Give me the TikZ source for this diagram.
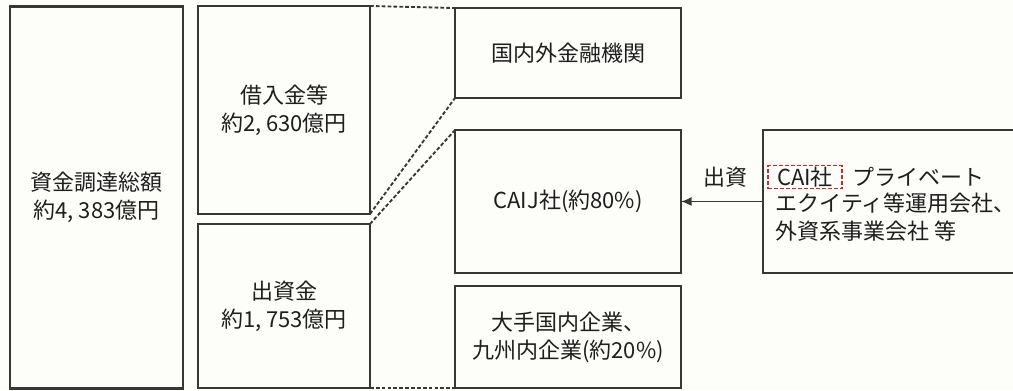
\documentclass[tikz,border=0pt]{standalone}
\usepackage{fontspec}
\setmainfont{Noto Sans CJK JP}
\usetikzlibrary{arrows.meta}
\definecolor{boxgray}{RGB}{55,55,55}
\definecolor{txt}{RGB}{30,30,30}
\definecolor{bgc}{RGB}{253,253,250}
\definecolor{tagred}{RGB}{215,35,40}
\begin{document}
\begin{tikzpicture}[x=0.75pt,y=-0.75pt,
  every node/.style={text=txt, font=\fontsize{16.5}{21}\selectfont},
  box/.style={draw=boxgray, line width=2pt, rectangle, inner sep=0pt, outer sep=0pt, align=center},
  openbox/.style={draw=none, rectangle, inner sep=0pt, outer sep=0pt},
  edge/.style={draw=boxgray, line width=2pt},
  sz/.style 2 args={minimum width={#1*0.75pt}, minimum height={#2*0.75pt}},
  link/.style={draw=boxgray, line width=1.4pt, dash pattern=on 2.8pt off 1.6pt},
  flow/.style={draw=boxgray, line width=1.4pt, -{Latex[length=8pt,width=7pt]}},
  lbl/.style={inner sep=1pt},
  tagbox/.style={draw=tagred, line width=1.3pt, dash pattern=on 3pt off 1.5pt, inner sep=0pt, minimum width={74*0.75pt}, minimum height={23*0.75pt}}
]
\clip (0,0) rectangle (1013,390);
\fill[bgc] (0,0) rectangle (1013,390);

\node[box, sz={173}{382}] (total) at (96.5,197.5) {資金調達総額\\約4, 383億円};
\node[box, sz={172}{208}] (loan) at (284,110) {借入金等\\約2, 630億円};
\node[box, sz={172}{164}] (equity) at (284,306) {出資金\\約1, 753億円};

\node[box, sz={226}{90}] (banks) at (568,53) {国内外金融機関};
\node[box, sz={226}{143}] (caij) at (568,201.5) {CAIJ社(約80\%)};
\node[box, sz={226}{102}] (major) at (568,337) {大手国内企業、\\九州内企業(約20\%)};

\node[openbox, sz={246}{143}] (cai) at (886,201.5) {};
\draw[edge] ([xshift=6pt]cai.north east) -- (cai.north west) -- (cai.south west) -- ([xshift=6pt]cai.south east);

\draw[link] (loan.north east) -- (banks.north west);
\draw[link] (loan.south east) -- (banks.south west);
\draw[link] (equity.north east) -- (caij.north west);
\draw[link] (equity.south east) -- (major.south west);

\draw[flow] (cai.west) -- (caij.east);
\node[lbl] (inv) at (725,177) {出資};

\node[tagbox] (tag) at (805,177) {CAI社};
\node[lbl, anchor=west] (pv) at (851,177) {プライベート};
\node[lbl, anchor=west, align=left] (rest) at (774,217) {エクイティ等運用会社、\\外資系事業会社 等};
\end{tikzpicture}
\end{document}
